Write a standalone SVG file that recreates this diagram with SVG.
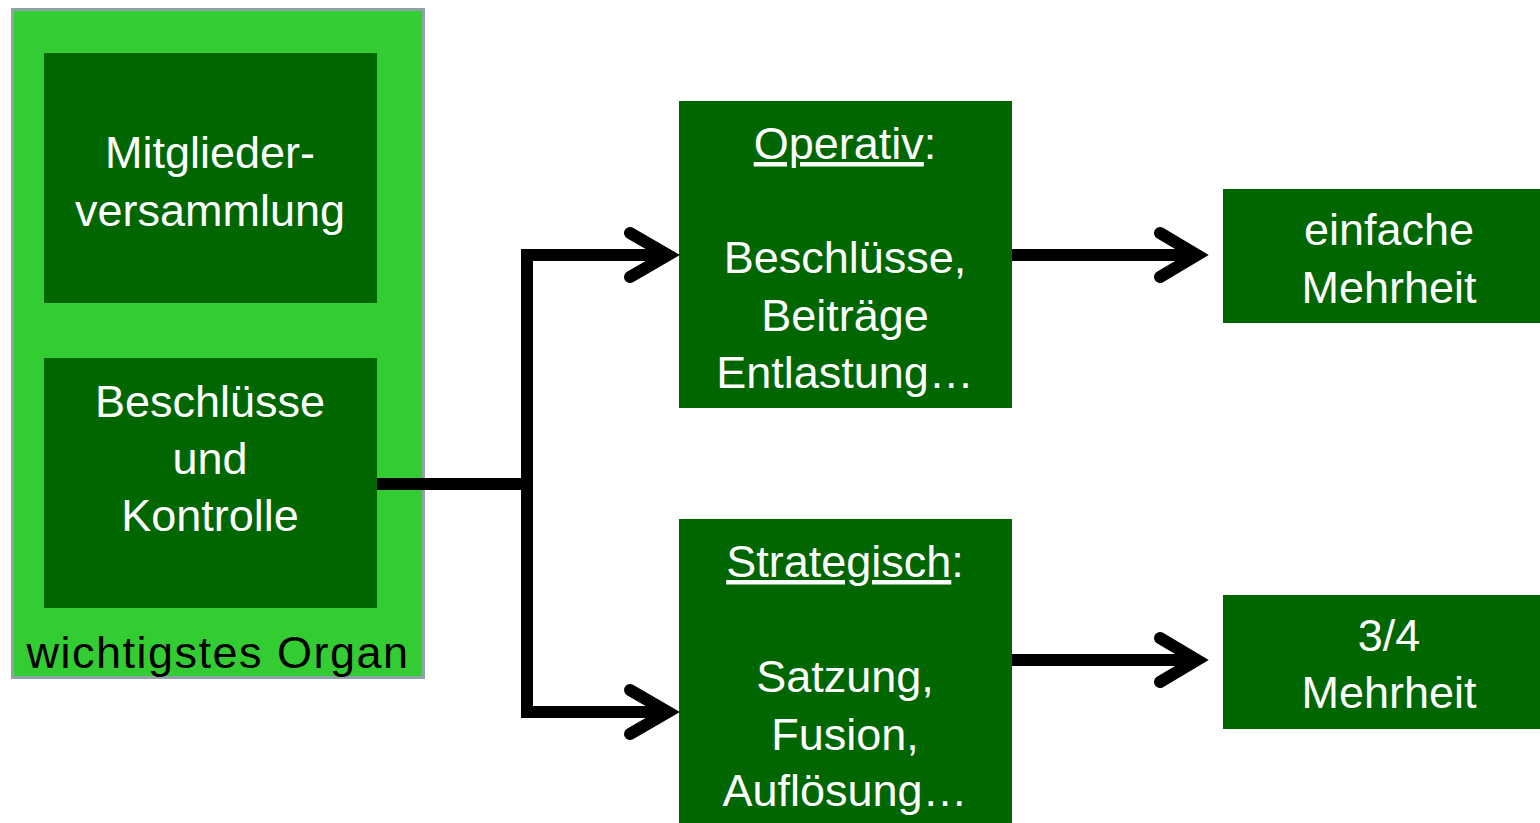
<svg xmlns="http://www.w3.org/2000/svg" width="1540" height="823" viewBox="0 0 1540 823">
<style>
.dk{fill:#006600}
.t{font-family:"Liberation Sans",Arial,sans-serif;font-size:45px;fill:#ffffff;text-anchor:middle}
.c{fill:none;stroke:#000;stroke-width:12}
.h{fill:none;stroke:#000;stroke-width:12;stroke-linecap:round;stroke-linejoin:miter}
</style>
<rect width="1540" height="823" fill="#ffffff"/>
<g id="organ">
<rect x="12.5" y="9.5" width="411" height="668" fill="#33cc33" stroke="#8ea3a5" stroke-width="3"/>
<text x="218" y="668" style="font-family:'Liberation Sans',Arial,sans-serif;font-size:45px;fill:#000;text-anchor:middle;letter-spacing:1.5px">wichtigstes Organ</text>
</g>
<g id="mitglieder">
<rect class="dk" x="44" y="53" width="333" height="250"/>
<text class="t" x="210" y="168">Mitglieder-</text>
<text class="t" x="210" y="226">versammlung</text>
</g>
<g id="beschluesse">
<rect class="dk" x="44" y="358" width="333" height="250"/>
<text class="t" x="210" y="417">Beschlüsse</text>
<text class="t" x="210" y="474">und</text>
<text class="t" x="210" y="531">Kontrolle</text>
</g>
<g id="operativ">
<rect class="dk" x="679" y="101" width="333" height="307"/>
<text class="t" x="845" y="159"><tspan text-decoration="underline">Operativ</tspan>:</text>
<text class="t" x="845" y="273">Beschlüsse,</text>
<text class="t" x="845" y="331">Beiträge</text>
<text class="t" x="845" y="388">Entlastung…</text>
</g>
<g id="strategisch">
<rect class="dk" x="679" y="519" width="333" height="304"/>
<text class="t" x="845" y="577"><tspan text-decoration="underline">Strategisch</tspan>:</text>
<text class="t" x="845" y="692">Satzung,</text>
<text class="t" x="845" y="750">Fusion,</text>
<text class="t" x="845" y="806">Auflösung…</text>
</g>
<g id="einfach">
<rect class="dk" x="1223" y="189" width="317" height="134"/>
<text class="t" x="1389" y="245">einfache</text>
<text class="t" x="1389" y="303">Mehrheit</text>
</g>
<g id="dreiviertel">
<rect class="dk" x="1223" y="595" width="317" height="134"/>
<text class="t" x="1389" y="651">3/4</text>
<text class="t" x="1389" y="708">Mehrheit</text>
</g>
<g id="connectors">
<path class="c" d="M377 484H527M527 249V718M527 255H670M527 712H670M1012 255H1198M1012 660H1198"/>
<polyline class="h" points="630,233 668,255 630,277"/>
<polyline class="h" points="630,690 668,712 630,734"/>
<polyline class="h" points="1160,233 1197,255 1160,277"/>
<polyline class="h" points="1160,638 1197,660 1160,682"/>
</g>
</svg>
